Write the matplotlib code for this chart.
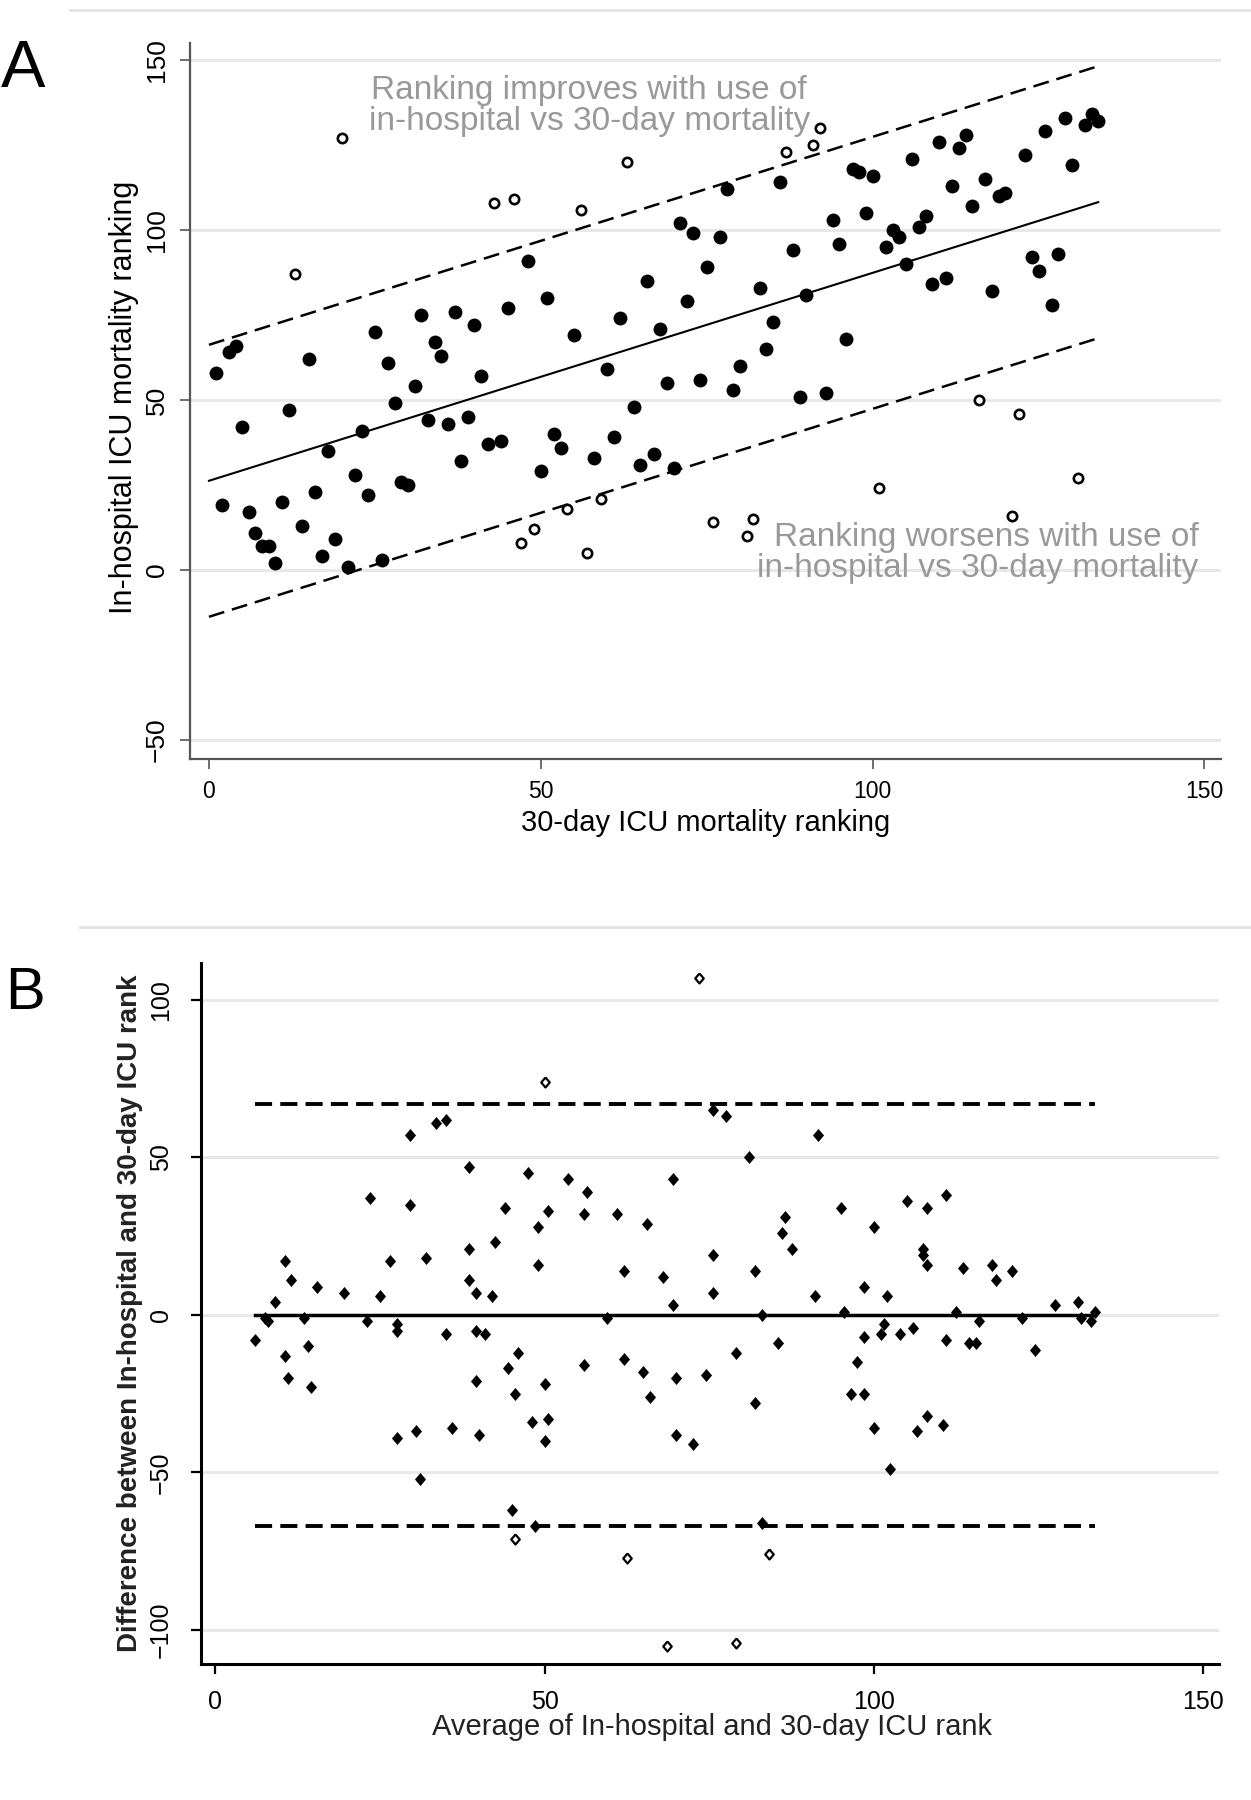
import matplotlib
matplotlib.use('Agg')
from matplotlib import pyplot as plt
from matplotlib.lines import Line2D
import numpy as np

plt.rcParams['font.family'] = ['Liberation Sans', 'DejaVu Sans']

# 30-day ICU mortality ranking of each ICU
rank_30day = [1, 2, 3, 4, 5, 6, 7, 8, 9, 10,
              11, 12, 13, 14, 15, 16, 17, 18, 19, 20,
              21, 22, 23, 24, 25, 26, 27, 28, 29, 30,
              31, 32, 33, 34, 35, 36, 37, 38, 39, 40,
              41, 42, 43, 44, 45, 46, 47, 48, 49, 50,
              51, 52, 53, 54, 55, 56, 57, 58, 59, 60,
              61, 62, 63, 64, 65, 66, 67, 68, 69, 70,
              71, 72, 73, 74, 75, 76, 77, 78, 79, 80,
              81, 82, 83, 84, 85, 86, 87, 88, 89, 90,
              91, 92, 93, 94, 95, 96, 97, 98, 99, 100,
              101, 102, 103, 104, 105, 106, 107, 108, 109, 110,
              111, 112, 113, 114, 115, 116, 117, 118, 119, 120,
              121, 122, 123, 124, 125, 126, 127, 128, 129, 130,
              131, 132, 133, 134]

# in-hospital ICU mortality ranking, same ICU order
rank_hosp = [58, 19, 64, 66, 42, 17, 11, 7, 7, 2,
             20, 47, 87, 13, 62, 23, 4, 35, 9, 127,
             1, 28, 41, 22, 70, 3, 61, 49, 26, 25,
             54, 75, 44, 67, 63, 43, 76, 32, 45, 72,
             57, 37, 108, 38, 77, 109, 8, 91, 12, 29,
             80, 40, 36, 18, 69, 106, 5, 33, 21, 59,
             39, 74, 120, 48, 31, 85, 34, 71, 55, 30,
             102, 79, 99, 56, 89, 14, 98, 112, 53, 60,
             10, 15, 83, 65, 73, 114, 123, 94, 51, 81,
             125, 130, 52, 103, 96, 68, 118, 117, 105, 116,
             24, 95, 100, 98, 90, 121, 101, 104, 84, 126,
             86, 113, 124, 128, 107, 50, 115, 82, 110, 111,
             16, 46, 122, 92, 88, 129, 78, 93, 133, 119,
             27, 131, 134, 132]

xticks = [0, 50, 100, 150]
yticks_a = [-50, 0, 50, 100, 150]
yticks_b = [-100, -50, 0, 50, 100]

band = 40        # +/- band round the fitted line (panel A)
loa_sd = 1.96    # limits of agreement (panel B)

x = np.array(rank_30day)
y = np.array(rank_hosp)

slope, intercept = np.polyfit(x, y, 1)
out_a = np.abs(y - (intercept + slope * x)) > band

avg = (x + y) / 2
diff = y - x
mean_diff = diff.mean()
sd_diff = diff.std(ddof=1)
out_b = np.abs(diff - mean_diff) > loa_sd * sd_diff

W, H = 1251, 1800
fig = plt.figure(figsize=(W / 100, H / 100), dpi=100)


def add_ax(left, top, right, bottom):
    return fig.add_axes([left / W, 1 - bottom / H, (right - left) / W, (bottom - top) / H])


# separators
fig.add_artist(Line2D([70 / W, 1], [1 - 10 / H] * 2, color='#e2e2e2', lw=2))
fig.add_artist(Line2D([80 / W, 1], [1 - 927 / H] * 2, color='#e2e2e2', lw=2))

# ---------------- panel A
ax = add_ax(190, 43, 1221, 759)
ax.set_xlim(-2.86, 152.5)
ax.set_ylim(-55.6, 155)
ax.set_xticks(xticks)
ax.set_yticks(yticks_a)
ax.yaxis.grid(True, color='#e8e8e8', lw=2.2)
ax.set_axisbelow(True)
for s in ['top', 'right']:
    ax.spines[s].set_visible(False)
for s in ['left', 'bottom']:
    ax.spines[s].set_color('#555555')
    ax.spines[s].set_linewidth(1.6)
ax.tick_params(colors='#555555', length=7, width=1.2, labelcolor='black')
ax.tick_params(axis='x', labelsize=16.5, pad=8)
ax.tick_params(axis='y', labelsize=19, pad=8)
plt.setp(ax.get_yticklabels(), rotation=90, va='center')

xs = np.array([0, x.max()])
fit_line = intercept + slope * xs
ax.plot(xs, fit_line, color='black', lw=1.5)
ax.plot(xs, fit_line + band, color='black', lw=1.8, ls=(0, (6.4, 3.2)))
ax.plot(xs, fit_line - band, color='black', lw=1.8, ls=(0, (6.4, 3.2)))

ax.scatter(x[~out_a], y[~out_a], s=100, color='black', lw=0, zorder=3)
ax.scatter(x[out_a], y[out_a], s=45, facecolor='white', edgecolor='black', lw=1.9, zorder=3)

ax.text(57.3, 136.6, 'Ranking improves with use of\nin-hospital vs 30-day mortality',
        ha='center', va='center', fontsize=24, color='#999999', linespacing=1.0)
ax.text(149.1, 4.85, 'Ranking worsens with use of\nin-hospital vs 30-day mortality',
        ha='right', va='center', fontsize=24, color='#999999', linespacing=1.0,
        multialignment='right')

ax.set_xlabel('30-day ICU mortality ranking', fontsize=21, va='center')
ax.xaxis.set_label_coords(0.5, -0.0894)
ax.set_ylabel('In-hospital ICU mortality ranking', fontsize=22, va='center')
ax.yaxis.set_label_coords(-0.064, 0.5056)

fig.text(23 / W, 1 - 70 / H, 'A', fontsize=48, ha='center', va='center',
         family=['Liberation Sans Narrow', 'Liberation Sans'])

# ---------------- panel B
bx = add_ax(201, 963, 1219, 1664)
bx.set_xlim(-2.19, 152.4)
bx.set_ylim(-110.8, 111.7)
bx.set_xticks(xticks)
bx.set_yticks(yticks_b)
bx.yaxis.grid(True, color='#e8e8e8', lw=2.2)
bx.set_axisbelow(True)
for s in ['top', 'right']:
    bx.spines[s].set_visible(False)
for s in ['left', 'bottom']:
    bx.spines[s].set_linewidth(2.2)
bx.tick_params(length=7, width=1.6)
bx.tick_params(axis='x', labelsize=18, pad=12)
bx.tick_params(axis='y', labelsize=18, pad=13)
plt.setp(bx.get_yticklabels(), rotation=90, va='center')

xb = np.array([avg.min(), avg.max()])
bx.plot(xb, [mean_diff] * 2, color='black', lw=2.5)
upper = mean_diff + loa_sd * sd_diff
lower = mean_diff - loa_sd * sd_diff
bx.plot(xb, [upper] * 2, color='black', lw=2.8, ls=(0, (4.4, 2.1)))
bx.plot(xb, [lower] * 2, color='black', lw=2.8, ls=(0, (4.4, 2.1)))

diamond = [(0, 1), (0.85, 0), (0, -1), (-0.85, 0), (0, 1)]
bx.scatter(avg[~out_b], diff[~out_b], s=88, marker=diamond, color='black', lw=0, zorder=3)
bx.scatter(avg[out_b], diff[out_b], s=52, marker=diamond, facecolor='white',
           edgecolor='black', lw=1.6, zorder=3)

bx.set_xlabel('Average of In-hospital and 30-day ICU rank', fontsize=21,
              va='center', color='#222222')
bx.xaxis.set_label_coords(0.502, -0.0899)
bx.set_ylabel('Difference between In-hospital and 30-day ICU rank', fontsize=20,
              fontweight='bold', va='center', color='#222222')
bx.yaxis.set_label_coords(-0.0697, 0.5)

fig.text(25 / W, 1 - 994 / H, 'B', fontsize=43, ha='center', va='center',
         family=['Liberation Sans Narrow', 'Liberation Sans'])

fig.savefig('out.png', dpi=100)
